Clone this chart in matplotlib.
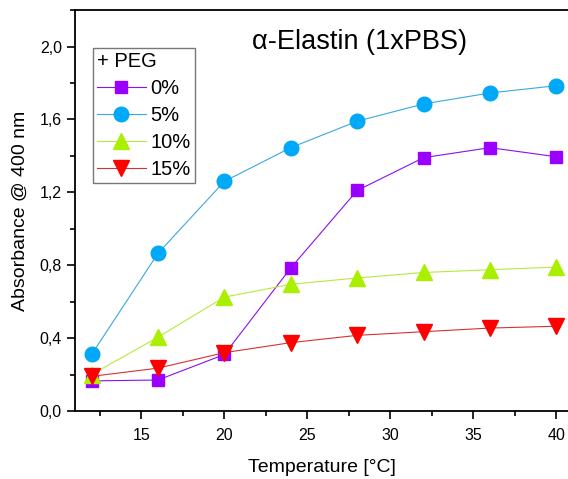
import matplotlib.pyplot as plt
from matplotlib.ticker import MultipleLocator, FuncFormatter

plt.rcParams['font.family'] = ['Liberation Sans', 'DejaVu Sans']

# data
temp = [12, 16, 20, 24, 28, 32, 36, 40]
peg0 = [0.165, 0.17, 0.31, 0.785, 1.21, 1.39, 1.445, 1.395]
peg5 = [0.31, 0.865, 1.26, 1.445, 1.59, 1.685, 1.745, 1.785]
peg10 = [0.20, 0.405, 0.625, 0.695, 0.73, 0.76, 0.775, 0.79]
peg15 = [0.19, 0.235, 0.32, 0.375, 0.415, 0.435, 0.455, 0.465]

fig = plt.figure(figsize=(5.68, 4.79), dpi=100)
ax = fig.add_axes([0.132, 0.142, 0.868, 0.837])

ax.plot(temp, peg0, color='#8a10f0', lw=0.8, marker='s', ms=9,
        mfc='#9900ff', mec='#9900ff', label='0%')
ax.plot(temp, peg5, color='#3aa8e0', lw=0.8, marker='o', ms=10.5,
        mfc='#00a8f8', mec='#00a8f8', label='5%')
ax.plot(temp, peg10, color='#b8e840', lw=0.8, marker='^', ms=11,
        mfc='#aaee00', mec='#aaee00', label='10%')
ax.plot(temp, peg15, color='#d83030', lw=0.8, marker='v', ms=11,
        mfc='#ff0000', mec='#ff0000', label='15%')

ax.set_xlim(11, 40.7)
ax.set_ylim(0, 2.2)
ax.xaxis.set_major_locator(MultipleLocator(5))
ax.xaxis.set_minor_locator(MultipleLocator(2.5))
ax.yaxis.set_major_locator(MultipleLocator(0.4))
ax.yaxis.set_minor_locator(MultipleLocator(0.2))
ax.yaxis.set_major_formatter(FuncFormatter(lambda v, p: f'{v:.1f}'.replace('.', ',')))
ax.tick_params(which='major', direction='out', length=6, width=1.2, labelsize=11.5)
ax.tick_params(axis='x', which='major', pad=6)
ax.tick_params(which='minor', direction='out', length=3.5, width=1.2)
for s in ['left', 'bottom', 'top']:
    ax.spines[s].set_linewidth(1.3)
ax.spines['right'].set_visible(False)

ax.set_xlabel('Temperature [°C]', fontsize=14, labelpad=12)
ax.set_ylabel('Absorbance @ 400 nm', fontsize=14, labelpad=8)
ax.text(0.578, 0.92, 'α-Elastin (1xPBS)', transform=ax.transAxes,
        ha='center', va='center', fontsize=19.5)

# legend with title "+ PEG"
leg = ax.legend(title='+ PEG', loc='upper left', bbox_to_anchor=(0.037, 0.906),
                fontsize=14.5, title_fontsize=14.5, frameon=True, fancybox=False,
                handlelength=2.4, handletextpad=0.25, borderpad=0.2,
                labelspacing=0.4, borderaxespad=0)
leg._legend_box.align = 'left'
leg.get_frame().set_edgecolor('#555555')
leg.get_frame().set_linewidth(1.0)

fig.savefig('out.png', dpi=100)
